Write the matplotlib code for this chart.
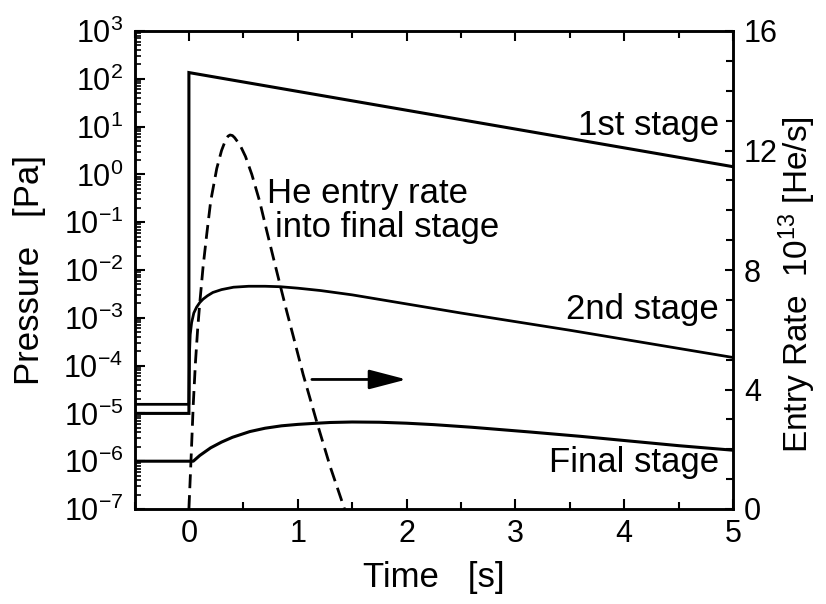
import matplotlib
matplotlib.use("Agg")
import matplotlib.pyplot as plt
from matplotlib.ticker import FixedLocator, FixedFormatter, MultipleLocator, LogLocator, NullFormatter
import numpy as np

plt.rcParams['font.family'] = ['Liberation Sans', 'DejaVu Sans']
plt.rcParams['mathtext.fontset'] = 'custom'
plt.rcParams['mathtext.rm'] = 'Liberation Sans'
plt.rcParams['mathtext.it'] = 'Liberation Sans:italic'
plt.rcParams['mathtext.bf'] = 'Liberation Sans:bold'

# ---- data ----
stage1_t = [-0.5, 0.0, 0.0, 5.0]
stage1_p = [1.0e-5, 1.0e-5, 135.0, 1.45]

stage2_t = [-0.5, 0.0, 0.003, 0.006, 0.012, 0.025, 0.045, 0.07, 0.10, 0.13, 0.17, 0.22,
            0.30, 0.41, 0.55, 0.70, 0.84, 1.0, 1.21, 1.5, 2.0, 2.5, 3.0, 3.5, 4.0, 4.5, 5.0]
stage2_logp = [-4.81, -4.81, -4.3, -3.7, -3.35, -3.1, -2.9, -2.78, -2.68, -2.61, -2.54, -2.47,
               -2.41, -2.36, -2.34, -2.34, -2.35, -2.38, -2.43, -2.52, -2.71, -2.90, -3.08,
               -3.26, -3.45, -3.64, -3.83]

final_t = [-0.5, 0.04, 0.1, 0.2, 0.3, 0.4, 0.56, 0.7, 0.85, 1.0, 1.14, 1.3, 1.5, 1.75,
           2.0, 2.25, 2.6, 3.14, 3.6, 4.06, 4.5, 5.0]
final_logp = [-6.0, -6.0, -5.88, -5.72, -5.6, -5.5, -5.38, -5.31, -5.26, -5.23, -5.21,
              -5.19, -5.18, -5.185, -5.205, -5.235, -5.29, -5.39, -5.48, -5.58, -5.675, -5.77]

rate_t = [0.0, 0.02, 0.04, 0.06, 0.08, 0.10, 0.13, 0.164, 0.20, 0.256, 0.30, 0.34, 0.36,
          0.378, 0.40, 0.42, 0.47, 0.52, 0.578, 0.65, 0.716, 0.78, 0.838, 0.90, 0.96,
          1.05, 1.18, 1.30, 1.43]
rate_v = [0.0, 1.7, 3.5, 4.9, 6.0, 6.9, 8.1, 9.2, 10.3, 11.4, 12.0, 12.38, 12.48,
          12.52, 12.5, 12.43, 12.18, 11.8, 11.2, 10.3, 9.3, 8.35, 7.5, 6.6, 5.77,
          4.5, 2.85, 1.4, 0.0]

x_ticks = [0, 1, 2, 3, 4, 5]
y_exponents = [3, 2, 1, 0, -1, -2, -3, -4, -5, -6, -7]
y_tick_labels = [f'$10^{{{e}}}$' for e in y_exponents]
r_ticks = [0, 4, 8, 12, 16]

# ---- figure ----
fig = plt.figure(figsize=(8.26, 6.04), dpi=100)
ax = fig.add_axes([134.5 / 826, 1 - 509 / 604, (733 - 134.5) / 826, (509 - 31) / 604])
ax2 = ax.twinx()

lw = 2.2
ax.plot(stage1_t, stage1_p, color='k', lw=lw, solid_joinstyle='miter')
ax.plot(stage2_t, [10 ** v for v in stage2_logp], color='k', lw=lw * 0.9)
ax.plot(final_t, [10 ** v for v in final_logp], color='k', lw=lw)
ax2.plot(rate_t, rate_v, color='k', lw=2.0, dashes=(5.0, 2.5))

ax.set_yscale('log')
ax.set_xlim(-0.5, 5)
ax.set_ylim(1e-7, 1e3)
ax2.set_ylim(0, 16)

ax.yaxis.set_major_locator(FixedLocator([10.0 ** e for e in y_exponents]))
ax.yaxis.set_major_formatter(FixedFormatter(y_tick_labels))
ax.yaxis.set_minor_locator(LogLocator(base=10, subs=np.arange(2, 10), numticks=100))
ax.yaxis.set_minor_formatter(NullFormatter())
ax.set_xticks(x_ticks)
ax.xaxis.set_minor_locator(MultipleLocator(0.5))
ax2.set_yticks(r_ticks)
ax2.yaxis.set_minor_locator(MultipleLocator(1))

for a in (ax, ax2):
    for s in a.spines.values():
        s.set_linewidth(1.8)

ax.tick_params(axis='x', which='both', direction='in', top=True, bottom=True,
               labelsize=22, pad=7)
ax.tick_params(axis='x', which='major', length=7, width=1.5)
ax.tick_params(axis='x', which='minor', length=5, width=1.5)
ax.tick_params(axis='y', which='both', direction='in', left=True, right=False,
               labelsize=22, pad=8)
ax.tick_params(axis='y', which='major', length=7, width=1.5)
ax.tick_params(axis='y', which='minor', length=4, width=1.2)
ax2.tick_params(axis='y', which='both', direction='in', right=True, labelsize=22, pad=8)
ax2.tick_params(axis='y', which='major', length=6, width=1.5)
ax2.tick_params(axis='y', which='minor', length=5, width=1.5)

ax.set_xlabel('Time   [s]', fontsize=25, labelpad=9)
ax.set_ylabel('Pressure   [Pa]', fontsize=25)
ax.yaxis.set_label_coords((30 - 134.5) / 598.5, 0.5)
ax.yaxis.label.set_va('center')
ax2.set_ylabel('Entry Rate  $10^{13}$ [He/s]', fontsize=24)
ax2.yaxis.set_label_coords((797 - 134.5) / 598.5, 0.47)
ax2.yaxis.label.set_va('center')

fs = 25
ax.text(4.87, 10 ** 1.03, '1st stage', fontsize=fs, ha='right', va='center')
ax.text(4.87, 10 ** -2.82, '2nd stage', fontsize=fs, ha='right', va='center')
ax.text(4.87, 10 ** -6.02, 'Final stage', fontsize=fs, ha='right', va='center')
ax.text(0.716, 10 ** -0.39, 'He entry rate', fontsize=fs, ha='left', va='center')
ax.text(0.79, 10 ** -1.12, 'into final stage', fontsize=fs, ha='left', va='center')

ax.annotate('', xy=(2.0, 10 ** -4.29), xytext=(1.13, 10 ** -4.29),
            arrowprops=dict(arrowstyle='-|>,head_length=1.15,head_width=0.3',
                            lw=2, color='k', mutation_scale=20, shrinkA=0, shrinkB=0))

fig.savefig('out.png', dpi=100)
